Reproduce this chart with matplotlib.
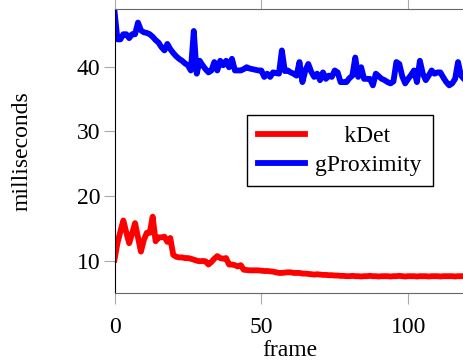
#importing the libraries
import numpy as np
import matplotlib.pyplot as plt

#per-frame timings (milliseconds)
kdet = [10.15, 12.7, 14.5, 16.2, 14.4, 12.7, 14.2, 15.8, 13.6, 11.4,
        13.2, 14.3, 14.3, 16.8, 13.0, 13.6, 13.6, 13.7, 12.9, 13.5,
        10.9, 10.6, 10.5, 10.5, 10.4, 10.4, 10.3, 10.15, 10.0, 9.9,
        9.95, 9.9, 9.4, 9.8, 10.3, 10.7, 10.4, 10.3, 10.4, 9.4,
        9.4, 9.3, 9.1, 9.3, 8.6, 8.55, 8.5, 8.5, 8.5, 8.5,
        8.45, 8.4, 8.4, 8.35, 8.3, 8.2, 8.1, 8.1, 8.15, 8.2,
        8.2, 8.1, 8.1, 8.1, 8.0, 8.0, 7.95, 7.9, 7.85, 7.9,
        7.85, 7.8, 7.8, 7.75, 7.75, 7.7, 7.7, 7.65, 7.65, 7.6,
        7.6, 7.65, 7.6, 7.6, 7.55, 7.6, 7.6, 7.65, 7.6, 7.6,
        7.55, 7.6, 7.6, 7.6, 7.55, 7.6, 7.6, 7.65, 7.6, 7.55,
        7.6, 7.6, 7.6, 7.55, 7.6, 7.6, 7.6, 7.55, 7.6, 7.6,
        7.6, 7.55, 7.6, 7.6, 7.6, 7.6, 7.55, 7.6, 7.6, 7.6]
gprox = [48.6, 44.2, 44.2, 45.0, 45.0, 44.4, 45.0, 45.0, 46.8, 45.6,
         45.3, 45.2, 45.0, 44.6, 44.1, 43.7, 43.0, 42.5, 43.5, 42.7,
         42.1, 41.6, 41.2, 40.9, 40.5, 40.2, 39.4, 45.5, 38.9, 40.9,
         40.2, 39.6, 39.1, 39.4, 40.7, 39.4, 40.9, 40.2, 40.9, 39.9,
         41.2, 39.4, 39.4, 39.4, 39.6, 39.9, 39.7, 39.6, 39.5, 39.4,
         39.4, 38.4, 38.9, 38.4, 39.1, 39.0, 38.9, 42.5, 39.3, 39.4,
         39.1, 38.9, 38.6, 40.7, 37.6, 39.4, 40.4, 39.2, 38.4, 38.9,
         37.9, 39.1, 38.1, 38.6, 38.4, 39.4, 39.1, 37.6, 37.6, 37.6,
         38.2, 38.6, 41.4, 38.4, 39.9, 38.1, 38.1, 38.1, 37.1, 38.9,
         38.5, 38.1, 37.9, 37.6, 37.4, 37.7, 40.7, 40.4, 38.5, 37.4,
         38.1, 38.7, 39.4, 37.6, 40.9, 38.9, 37.9, 38.6, 39.4, 38.9,
         39.1, 39.1, 38.3, 37.6, 37.1, 37.4, 38.1, 40.7, 38.6, 38.1]
frames = np.arange(len(kdet))
x_ticks = [0, 50, 100]
y_ticks = [10, 20, 30, 40]

plt.rcParams['font.family'] = ['Liberation Serif', 'DejaVu Serif']
plt.rcParams['font.size'] = 17

fig = plt.figure(figsize=(4.63, 3.63), dpi=100)
ax = fig.add_axes([114.5 / 463, 1 - 293 / 363, 350 / 463, 284 / 363])

ax.plot(frames, kdet, color='red', lw=4.2, solid_joinstyle='round', label='     kDet')
ax.plot(frames, gprox, color='blue', lw=4.2, solid_joinstyle='round', label='gProximity')

ax.set_xlim(0, 119.2)
ax.set_ylim(5, 48.9)
ax.set_xticks(x_ticks)
ax.set_yticks(y_ticks)
ax.tick_params(direction='out', length=8, width=0.8, color='#aaaaaa',
               top=True, right=True)
ax.tick_params(axis='x', pad=9)
ax.tick_params(axis='y', pad=2)
for s in ['bottom', 'top', 'right']:
    ax.spines[s].set_color('#666666')
ax.spines['left'].set_color('black')

ax.set_xlabel('frame', labelpad=2)
ax.set_ylabel('milliseconds', labelpad=32)

leg = ax.legend(loc='upper left', bbox_to_anchor=(247 / 463, 1 - 115 / 363),
                bbox_transform=fig.transFigure, borderaxespad=0,
                fancybox=False, edgecolor='black', framealpha=1,
                handlelength=2.0, handletextpad=0.45, borderpad=0.45,
                labelspacing=0.3)
leg.get_frame().set_linewidth(1.0)

plt.savefig('out.png', dpi=100)
